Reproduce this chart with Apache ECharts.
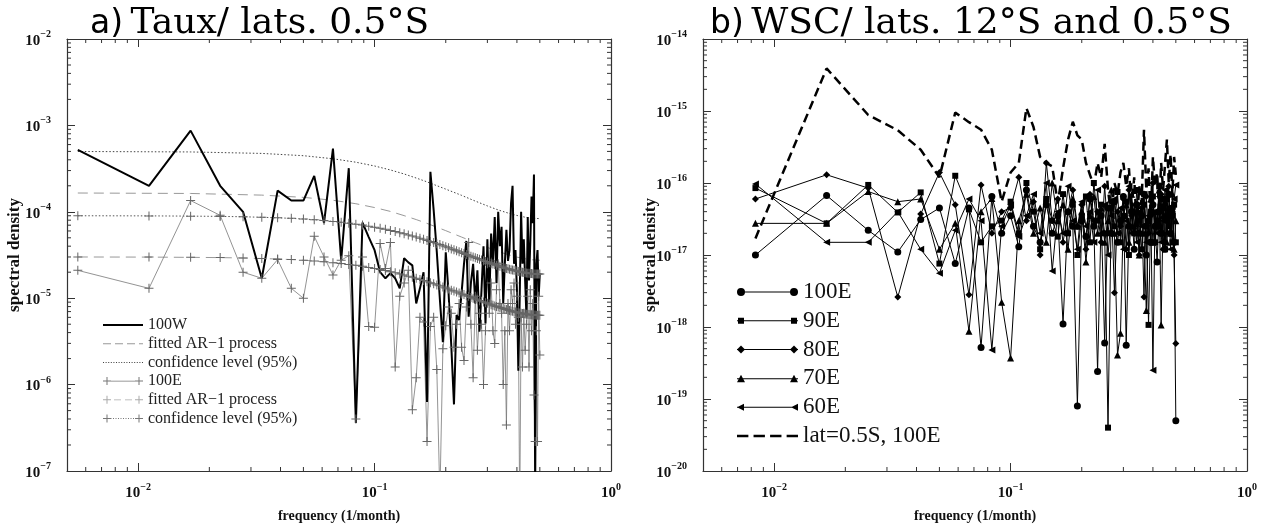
<!DOCTYPE html>
<html>
<head>
<meta charset="utf-8">
<script src="https://cdn.jsdelivr.net/npm/echarts@6/dist/echarts.min.js"></script>
<style>
  html, body { margin: 0; padding: 0; background: #fff; }
  #chart { width: 1261px; height: 529px; }
</style>
</head>
<body>
<div id="chart"></div>
<script>
// panel a: 180-month record -> frequencies k/180 ; panel b: 120-month record -> k/120
var nA = 180, nB = 120;
var kA = Array.from({ length: 90 }, function (_, i) { return i + 1; });
var kB = Array.from({ length: 60 }, function (_, i) { return i + 1; });
var kSmooth = [1, 3, 6, 9, 12, 15, 18, 21, 24, 27, 30, 36, 42, 48, 54, 60, 66, 72, 78, 84, 90];

// ---- panel a) Taux, lat 0.5S ----
var spec100W = [
  5.2e-4, 2.0e-4, 8.7e-4, 2.0e-4, 1.0e-4, 1.7e-5, 1.76e-4, 1.35e-4, 1.35e-4, 2.6e-4, 7.4e-5, 5.4e-4, 2.75e-5, 3.2e-4, 3.6e-7,
  7.5e-5, 5.1e-5, 3.6e-5, 2.0e-5, 1.7e-5, 1.95e-5, 1.7e-5, 1.3e-5, 2.9e-5, 2.6e-5, 2.4e-5, 8.7e-6, 1.3e-5, 2.0e-5, 6.3e-7, 2.9e-4,
  1.05e-4, 3.4e-5, 9.7e-6, 3.1e-6, 3.4e-5, 1.15e-5, 2.8e-6, 5.9e-7, 6.4e-6, 5.6e-6, 1.15e-5, 2.5e-5, 4.6e-5, 6.1e-6,
  1.5e-5, 2.5e-5, 8.7e-6, 2.1e-5, 4.1e-6, 1.25e-5, 4.0e-5, 5.1e-6, 4.8e-5, 8.7e-6, 5.6e-5, 2.5e-5, 8.7e-5, 1.5e-5, 1.0e-4,
  4.0e-5, 6.7e-5, 8.7e-6, 2.5e-5, 6.2e-5, 2.7e-5, 3.6e-5, 1.26e-4, 2.0e-4, 2.5e-5, 3.6e-5, 1.25e-5, 1.45e-6, 1.05e-5, 1.0e-4,
  2.5e-5, 4.8e-5, 1.6e-5, 6.1e-6, 8.7e-5, 1.6e-5, 4.3e-5, 1.5e-4, 7.4e-5, 2.7e-4, 6.0e-8, 2.5e-5, 3.6e-5, 1.05e-5, 1.95e-5
];
var fit100W = [1.65e-4, 1.63e-4, 1.56e-4, 1.47e-4, 1.36e-4, 1.24e-4, 1.12e-4, 1.01e-4, 9.03e-5, 8.13e-5, 7.34e-5,
  6.05e-5, 5.10e-5, 4.39e-5, 3.87e-5, 3.48e-5, 3.19e-5, 2.99e-5, 2.86e-5, 2.78e-5, 2.75e-5];
var conf100W = [4.99e-4, 4.93e-4, 4.74e-4, 4.46e-4, 4.11e-4, 3.75e-4, 3.39e-4, 3.05e-4, 2.74e-4, 2.46e-4, 2.22e-4,
  1.83e-4, 1.55e-4, 1.33e-4, 1.17e-4, 1.05e-4, 9.68e-5, 9.07e-5, 8.66e-5, 8.42e-5, 8.34e-5];
var spec100E = [
  2.1e-5, 1.3e-5, 1.35e-4, 9.1e-5, 2.0e-5, 1.7e-5, 2.8e-5, 1.3e-5, 1.0e-5, 5.2e-5, 3.0e-5, 1.86e-5, 2.75e-5, 3.1e-5, 4.0e-7,
  3.0e-5, 4.7e-6, 4.6e-6, 4.3e-5, 2.2e-5, 4.4e-5, 1.6e-6, 1.05e-5, 1.5e-5, 2.1e-5, 5.1e-7, 1.2e-6, 6.0e-6, 5.3e-6, 2.2e-7,
  4.7e-6, 6.0e-6, 1.5e-6, 5.0e-8, 2.6e-6, 4.8e-6, 7.9e-6, 6.7e-6, 2.7e-6, 5.0e-6, 8.7e-6, 2.7e-6, 1.9e-6, 7.9e-6, 4.4e-5,
  5.0e-6, 1.2e-6, 1.05e-5, 2.5e-6, 6.7e-6, 5.0e-6, 1.0e-6, 4.2e-6, 2.5e-5, 6.7e-6, 1.5e-5, 4.2e-6, 3.0e-6, 1.25e-5, 2.5e-5,
  8.7e-6, 6.7e-6, 1.0e-6, 4.2e-6, 3.4e-7, 8.7e-6, 4.2e-6, 1.25e-5, 8.7e-6, 1.5e-5, 5.0e-6, 1.05e-5, 6.0e-6, 3.0e-8, 6.0e-6,
  1.6e-6, 6.7e-6, 2.5e-6, 5.0e-6, 1.05e-5, 1.6e-6, 1.25e-5, 4.2e-6, 8.7e-6, 7.6e-7, 2.2e-7, 4.2e-6, 2.2e-7, 1.05e-5, 2.2e-6
];
var fit100E = [
  3.00e-5, 2.99e-5, 2.97e-5, 2.95e-5, 2.92e-5, 2.88e-5, 2.84e-5, 2.80e-5, 2.75e-5, 2.70e-5,
  2.64e-5, 2.58e-5, 2.52e-5, 2.46e-5, 2.40e-5, 2.34e-5, 2.27e-5, 2.21e-5, 2.15e-5, 2.09e-5,
  2.03e-5, 1.97e-5, 1.91e-5, 1.86e-5, 1.80e-5, 1.75e-5, 1.70e-5, 1.65e-5, 1.60e-5, 1.55e-5,
  1.51e-5, 1.47e-5, 1.42e-5, 1.39e-5, 1.35e-5, 1.31e-5, 1.28e-5, 1.24e-5, 1.21e-5, 1.18e-5,
  1.15e-5, 1.12e-5, 1.10e-5, 1.07e-5, 1.05e-5, 1.02e-5, 1.00e-5, 9.81e-6, 9.60e-6, 9.41e-6,
  9.23e-6, 9.05e-6, 8.88e-6, 8.72e-6, 8.57e-6, 8.42e-6, 8.28e-6, 8.15e-6, 8.02e-6, 7.90e-6,
  7.79e-6, 7.68e-6, 7.58e-6, 7.48e-6, 7.38e-6, 7.30e-6, 7.21e-6, 7.13e-6, 7.06e-6, 6.99e-6,
  6.92e-6, 6.86e-6, 6.80e-6, 6.75e-6, 6.70e-6, 6.65e-6, 6.61e-6, 6.57e-6, 6.53e-6, 6.50e-6,
  6.47e-6, 6.44e-6, 6.42e-6, 6.40e-6, 6.38e-6, 6.37e-6, 6.36e-6, 6.35e-6, 6.35e-6, 6.35e-6
];
var conf100E = [
  9.00e-5, 8.97e-5, 8.91e-5, 8.85e-5, 8.76e-5, 8.64e-5, 8.52e-5, 8.40e-5, 8.25e-5, 8.10e-5,
  7.92e-5, 7.74e-5, 7.56e-5, 7.38e-5, 7.20e-5, 7.02e-5, 6.81e-5, 6.63e-5, 6.45e-5, 6.27e-5,
  6.09e-5, 5.91e-5, 5.73e-5, 5.58e-5, 5.40e-5, 5.25e-5, 5.10e-5, 4.95e-5, 4.80e-5, 4.65e-5,
  4.53e-5, 4.41e-5, 4.26e-5, 4.17e-5, 4.05e-5, 3.93e-5, 3.84e-5, 3.72e-5, 3.63e-5, 3.54e-5,
  3.45e-5, 3.36e-5, 3.30e-5, 3.21e-5, 3.15e-5, 3.06e-5, 3.00e-5, 2.94e-5, 2.88e-5, 2.82e-5,
  2.77e-5, 2.72e-5, 2.66e-5, 2.62e-5, 2.57e-5, 2.53e-5, 2.48e-5, 2.45e-5, 2.41e-5, 2.37e-5,
  2.34e-5, 2.30e-5, 2.27e-5, 2.24e-5, 2.21e-5, 2.19e-5, 2.16e-5, 2.14e-5, 2.12e-5, 2.10e-5,
  2.08e-5, 2.06e-5, 2.04e-5, 2.03e-5, 2.01e-5, 2.00e-5, 1.98e-5, 1.97e-5, 1.96e-5, 1.95e-5,
  1.94e-5, 1.93e-5, 1.93e-5, 1.92e-5, 1.91e-5, 1.91e-5, 1.91e-5, 1.91e-5, 1.91e-5, 1.91e-5
];

// ---- panel b) WSC, lat 12S (markers) and 0.5S (dashed) ----
var wsc100E = [
  1.0e-17, 6.7e-17, 2.2e-17, 1.1e-17, 3.1e-17, 4.5e-17, 7.6e-18, 4.5e-17, 5.2e-19, 6.5e-17,
  2.0e-17, 3.5e-17, 1.3e-17, 8.0e-17, 2.5e-17, 1.5e-17, 5.0e-17, 2.0e-17, 3.5e-17, 1.1e-18,
  4.0e-17, 2.5e-17, 8.0e-20, 3.0e-17, 1.8e-17, 6.0e-17, 2.5e-17, 2.4e-19, 3.5e-17, 6.0e-19,
  4.5e-17, 2.0e-17, 5.5e-17, 1.5e-17, 3.0e-17, 6.5e-17, 5.6e-19, 2.5e-17, 4.0e-17, 1.2e-17,
  5.0e-17, 2.0e-17, 3.5e-17, 7.0e-17, 1.0e-17, 3.0e-17, 1.5e-17, 5.0e-17, 2.5e-17, 8.0e-18,
  4.0e-17, 2.0e-17, 6.0e-17, 1.2e-17, 3.5e-17, 7.0e-17, 2.0e-17, 4.5e-17, 1.5e-17, 5.0e-20
];
var wsc90E = [
  8.5e-17, 2.75e-17, 9.4e-17, 3.9e-17, 7.4e-17, 7.6e-18, 1.26e-16, 4.3e-17, 1.5e-17, 2.5e-17,
  3.0e-17, 5.5e-17, 2.0e-17, 1.0e-16, 4.0e-17, 1.2e-17, 6.0e-17, 3.0e-17, 1.8e-17, 7.0e-17,
  2.0e-17, 5.0e-17, 1.0e-17, 3.5e-17, 6.5e-17, 1.5e-17, 1.0e-16, 3.0e-17, 5.0e-17, 2.0e-17,
  4.0e-20, 4.5e-17, 2.5e-17, 7.5e-17, 1.5e-17, 3.5e-17, 5.5e-17, 1.0e-17, 4.0e-17, 2.0e-17,
  8.0e-17, 3.0e-17, 1.2e-17, 5.0e-17, 2.5e-17, 1.07e-18, 4.0e-17, 6.5e-17, 1.5e-17, 3.0e-17,
  9.0e-17, 2.0e-17, 4.5e-17, 1.2e-17, 6.0e-17, 2.5e-17, 3.5e-17, 1.5e-17, 5.0e-17, 1.5e-17
];
var wsc80E = [
  6.0e-17, 1.3e-16, 8.5e-17, 2.6e-18, 3.7e-17, 1.4e-16, 5.0e-17, 2.8e-18, 9.4e-17, 2.0e-17,
  4.0e-17, 4.5e-17, 1.2e-16, 3.0e-17, 5.5e-17, 1.0e-17, 1.9e-16, 3.0e-17, 6.0e-17, 1.5e-17,
  4.0e-17, 8.0e-17, 2.5e-17, 5.0e-17, 1.2e-17, 7.0e-17, 3.0e-17, 4.0e-17, 1.5e-17, 9.0e-17,
  2.0e-17, 5.5e-17, 3.0e-18, 4.0e-17, 2.5e-17, 6.0e-17, 1.2e-17, 8.0e-17, 3.5e-17, 2.0e-17,
  5.0e-17, 1.0e-17, 4.5e-17, 2.6e-18, 6.5e-17, 2.0e-17, 3.5e-17, 1.0e-16, 1.5e-17, 4.0e-17,
  2.5e-17, 7.0e-17, 1.2e-17, 5.0e-17, 3.0e-17, 9.0e-17, 2.0e-17, 4.0e-17, 1.0e-17, 5.9e-19
];
var wsc70E = [
  2.75e-17, 2.75e-17, 7.6e-17, 5.5e-17, 6.0e-17, 1.2e-17, 2.75e-17, 8.7e-19, 4.0e-17, 6.1e-17,
  2.2e-18, 3.7e-19, 3.0e-17, 7.0e-17, 2.0e-17, 4.5e-17, 1.5e-17, 1.0e-16, 3.0e-17, 5.0e-17,
  1.2e-17, 6.0e-17, 2.5e-17, 4.0e-17, 8.0e-18, 3.5e-17, 6.5e-17, 2.0e-17, 4.5e-17, 1.5e-17,
  3.0e-17, 8.0e-17, 2.0e-17, 4.1e-19, 8.2e-19, 3.5e-17, 5.0e-17, 1.5e-17, 7.0e-17, 2.5e-17,
  4.0e-17, 1.0e-17, 5.5e-17, 2.0e-17, 1.7e-18, 3.0e-17, 6.0e-17, 1.5e-17, 4.0e-17, 2.5e-17,
  8.0e-17, 1.07e-18, 3.5e-17, 5.5e-17, 1.5e-17, 4.5e-17, 2.0e-17, 7.0e-17, 1.2e-17, 3.0e-17
];
var wsc60E = [
  9.7e-17, 1.5e-17, 1.5e-17, 4.0e-17, 1.2e-17, 5.6e-18, 2.2e-17, 6.0e-17, 3.0e-17, 4.8e-19,
  2.5e-17, 5.0e-17, 1.8e-17, 3.5e-17, 7.0e-17, 2.0e-17, 1.0e-16, 6.0e-18, 4.0e-17, 2.0e-17,
  9.0e-17, 3.0e-17, 1.2e-17, 5.5e-17, 2.5e-17, 4.0e-17, 1.5e-17, 8.0e-17, 2.0e-17, 5.0e-17,
  1.0e-17, 3.5e-17, 6.0e-17, 2.0e-17, 4.5e-17, 1.2e-17, 3.0e-17, 9.0e-17, 2.0e-17, 5.0e-17,
  1.5e-17, 4.0e-17, 2.5e-17, 7.0e-17, 1.5e-17, 3.5e-17, 5.5e-17, 2.5e-19, 4.0e-17, 2.0e-17,
  6.5e-17, 1.5e-17, 3.0e-17, 8.0e-17, 2.0e-17, 4.5e-17, 1.2e-17, 3.5e-17, 6.0e-17, 9.4e-17
];
var wscLat05 = [
  1.7e-17, 3.9e-15, 8.8e-16, 5.4e-16, 2.9e-16, 1.2e-16, 9.5e-16, 7.0e-16, 5.5e-16, 2.9e-16,
  5.5e-17, 1.4e-16, 1.9e-16, 1.1e-15, 6.0e-16, 2.3e-16, 1.9e-16, 1.7e-16, 5.2e-17, 1.6e-16,
  4.0e-16, 7.1e-16, 4.6e-16, 4.0e-16, 1.9e-16, 1.3e-16, 9.0e-17, 1.9e-16, 1.2e-16, 3.5e-16,
  8.0e-17, 3.4e-17, 1.0e-16, 7.0e-17, 1.4e-16, 1.9e-16, 9.0e-17, 1.6e-16, 4.2e-17, 1.2e-16,
  2.4e-17, 9.0e-17, 5.2e-17, 5.5e-16, 8.0e-17, 1.6e-16, 3.0e-17, 2.3e-16, 9.0e-17, 1.4e-16,
  4.0e-17, 1.9e-16, 8.0e-17, 1.8e-16, 4.0e-16, 1.0e-16, 2.5e-16, 7.0e-17, 2.3e-16, 1.3e-16
];

// decade starts used for the small log ticks
var xDecades = [0.001, 0.01, 0.1];
var yDecadesA = [1e-7, 1e-6, 1e-5, 1e-4, 1e-3];
var yDecadesB = [1e-20, 1e-19, 1e-18, 1e-17, 1e-16, 1e-15];

var legendText = {
  aW: '100W', aWfit: 'fitted AR\u22121 process', aWconf: 'confidence level (95%)',
  aE: '100E', aEfit: 'fitted AR\u22121 process', aEconf: 'confidence level (95%)',
  b100: '100E', b90: '90E', b80: '80E', b70: '70E', b60: '60E', bLat: 'lat=0.5S, 100E'
};

function pairs(ks, n, vals) {
  return ks.map(function (k, i) { return [k / n, vals[i]]; });
}
function minorOf(decades, lo, hi) {
  var out = [];
  decades.forEach(function (d) {
    for (var m = 2; m <= 9; m++) { var v = m * d; if (v > lo && v < hi) out.push(v); }
  });
  return out;
}

// ---- small svg helpers for legend icons ----
function bar(x0, x1, y, h) {
  return 'M' + x0 + ',' + y + 'h' + (x1 - x0) + 'v' + h + 'h' + (x0 - x1) + 'z';
}
function dashes(W, d, g, y, h) {
  var p = '';
  for (var x = 0; x < W; x += d + g) p += bar(x, Math.min(x + d, W), y, h);
  return p;
}
function cross(cx, cy, r, t) {
  var a = r - t / 2;
  return 'M' + (cx - t / 2) + ',' + (cy - r) + 'h' + t + 'v' + a + 'h' + a + 'v' + t + 'h' + (-a) +
    'v' + a + 'h' + (-t) + 'v' + (-a) + 'h' + (-a) + 'v' + (-t) + 'h' + a + 'z';
}
function circ(cx, cy, r) {
  return 'M' + (cx - r) + ',' + cy + 'a' + r + ',' + r + ' 0 1,1 ' + (2 * r) + ',0a' + r + ',' + r + ' 0 1,1 ' + (-2 * r) + ',0z';
}
var plusEnds = cross(4, 4, 4, 1) + cross(36, 4, 4, 1);
var midLine = bar(0, 61, 4, 1);
var icons = {
  aW: bar(0, 40, 3, 2),
  aWfit: dashes(40, 8, 4, 3.5, 1),
  aWconf: dashes(40, 1, 1.5, 3.5, 1),
  aE: plusEnds + bar(0, 40, 3.6, 0.8),
  aEfit: plusEnds + dashes(40, 7, 4, 3.6, 0.8),
  aEconf: plusEnds + dashes(40, 1, 1.5, 3.6, 0.8),
  b100: circ(4, 4.5, 4) + circ(57, 4.5, 4) + midLine,
  b90: 'M1,1.5h6v6h-6z M54,1.5h6v6h-6z' + midLine,
  b80: 'M4,0.5L8,4.5L4,8.5L0,4.5z M57,0.5L61,4.5L57,8.5L53,4.5z' + midLine,
  b70: 'M4,0.5L8,8L0,8z M57,0.5L61,8L53,8z' + midLine,
  b60: 'M0,4.5L7,1L7,8z M54,4.5L61,1L61,8z' + midLine,
  bLat: bar(0, 11, 3, 2.6) + bar(16, 27, 3, 2.6) + bar(32, 43, 3, 2.6) + bar(48, 59, 3, 2.6)
};
var plusSymbol = 'path://' + cross(4.5, 4.5, 4.5, 1);

function logLabel(v) {
  var l = Math.log(v) / Math.LN10, e = Math.round(l);
  if (Math.abs(l - e) > 0.01) return '';
  return '{b|10}{e|' + (e < 0 ? '\u2212' + (-e) : e) + '}';
}
var labelRich = {
  b: { fontFamily: 'Liberation Serif', fontSize: 15, fontWeight: 'bold', color: '#111', lineHeight: 19, verticalAlign: 'bottom' },
  e: { fontFamily: 'Liberation Serif', fontSize: 10, fontWeight: 'bold', color: '#111', lineHeight: 11, verticalAlign: 'top' }
};
var xNameStyle = { fontFamily: 'Liberation Serif', fontSize: 14, fontWeight: 'bold', color: '#111' };
var yNameStyle = { fontFamily: 'Liberation Serif', fontSize: 17, fontWeight: 'bold', color: '#111' };
var frame = { lineStyle: { color: '#333', width: 1.2 } };
var majorTick = { inside: true, length: 8, lineStyle: { color: '#333', width: 1 } };

function xAxes(gi) {
  return [
    { type: 'log', gridIndex: gi, min: 0.005, max: 1, position: 'bottom',
      name: 'frequency (1/month)', nameLocation: 'middle', nameGap: 38, nameMoveOverlap: false, nameTextStyle: xNameStyle,
      axisLine: frame, axisTick: majorTick, splitLine: { show: false },
      axisLabel: { formatter: logLabel, rich: labelRich, margin: 11 } },
    { type: 'log', gridIndex: gi, min: 0.005, max: 1, position: 'top',
      axisLine: frame, axisTick: majorTick, splitLine: { show: false }, axisLabel: { show: false } }
  ];
}
function yAxes(gi, min, max) {
  return [
    { type: 'log', gridIndex: gi, min: min, max: max, position: 'left',
      name: 'spectral density', nameLocation: 'middle', nameGap: 44, nameMoveOverlap: false, nameTextStyle: yNameStyle,
      axisLine: frame, axisTick: majorTick, splitLine: { show: false },
      axisLabel: { formatter: logLabel, rich: labelRich, margin: 16 } },
    { type: 'log', gridIndex: gi, min: min, max: max, position: 'right',
      axisLine: frame, axisTick: majorTick, splitLine: { show: false }, axisLabel: { show: false } }
  ];
}

// small log ticks on all four sides, placed through the axes' own scales
function minorTicks(gi, xMin, yMin, xs, ys) {
  var data = xs.map(function (v) { return [v, yMin, 0]; }).concat(ys.map(function (v) { return [xMin, v, 1]; }));
  return {
    type: 'custom', xAxisIndex: gi * 2, yAxisIndex: gi * 2, silent: true, z: 5, clip: false,
    data: data,
    renderItem: function (params, api) {
      var p = api.coord([api.value(0), api.value(1)]);
      var cs = params.coordSys, L = 4, st = { stroke: '#333', lineWidth: 1 };
      if (api.value(2) === 0) {
        return { type: 'group', children: [
          { type: 'line', shape: { x1: p[0], y1: cs.y + cs.height, x2: p[0], y2: cs.y + cs.height - L }, style: st },
          { type: 'line', shape: { x1: p[0], y1: cs.y, x2: p[0], y2: cs.y + L }, style: st }
        ] };
      }
      return { type: 'group', children: [
        { type: 'line', shape: { x1: cs.x, y1: p[1], x2: cs.x + L, y2: p[1] }, style: st },
        { type: 'line', shape: { x1: cs.x + cs.width, y1: p[1], x2: cs.x + cs.width - L, y2: p[1] }, style: st }
      ] };
    }
  };
}

function lineA(id, data, color, width, type, withPlus) {
  return {
    type: 'line', name: id, xAxisIndex: 0, yAxisIndex: 0, data: data,
    showSymbol: !!withPlus, symbol: withPlus ? plusSymbol : 'none', symbolSize: 9,
    itemStyle: { color: withPlus ? '#666' : color, borderWidth: 0 },
    lineStyle: { color: color, width: width, type: type },
    emphasis: { disabled: true }
  };
}
function lineB(id, vals, symbol, size, rotate) {
  return {
    type: 'line', name: id, xAxisIndex: 2, yAxisIndex: 2, data: pairs(kB, nB, vals),
    symbol: symbol, symbolSize: size, symbolRotate: rotate || 0,
    itemStyle: { color: '#000', borderWidth: 0 },
    lineStyle: { color: '#000', width: 1 },
    emphasis: { disabled: true }
  };
}

var legendColors = { aW: '#000', aWfit: '#999', aWconf: '#444', aE: '#777', aEfit: '#aaa', aEconf: '#777',
  b100: '#000', b90: '#000', b80: '#000', b70: '#000', b60: '#000', bLat: '#000' };
function legendData(ids) {
  return ids.map(function (id) {
    return { name: id, icon: 'path://' + icons[id], itemStyle: { color: legendColors[id], borderWidth: 0 } };
  });
}
var titleRich = {
  s: { fontFamily: 'DejaVu Sans', fontSize: 33, fontWeight: 'normal', color: '#000' },
  t: { fontFamily: 'DejaVu Serif', fontSize: 36, fontWeight: 'normal', color: '#000' }
};

var chart = echarts.init(document.getElementById('chart'), null, { renderer: 'canvas' });
chart.setOption({
  animation: false,
  backgroundColor: '#fff',
  textStyle: { fontFamily: 'Liberation Serif' },
  title: [
    { left: 85, top: 1, text: '{s|a)} {t|Taux/ lats. 0.5\u00b0S}',
      textStyle: { fontWeight: 'normal', fontSize: 30, rich: titleRich } },
    { left: 705, top: 1, text: '{s|b)} {t|WSC/ lats. 12\u00b0S and 0.5\u00b0S}',
      textStyle: { fontWeight: 'normal', fontSize: 30, rich: titleRich } }
  ],
  grid: [
    { left: 67, top: 39, width: 544, height: 432, outerBoundsMode: 'none' },
    { left: 703, top: 39, width: 544, height: 432, outerBoundsMode: 'none' }
  ],
  xAxis: xAxes(0).concat(xAxes(1)),
  yAxis: yAxes(0, 1e-7, 1e-2).concat(yAxes(1, 1e-20, 1e-14)),
  legend: [
    { left: 103, top: 316, orient: 'vertical', padding: 0, itemWidth: 40, itemHeight: 8, itemGap: 0.7,
      selectedMode: false, itemStyle: { borderWidth: 0 },
      formatter: function (n) { return legendText[n]; },
      textStyle: { fontFamily: 'Liberation Serif', fontSize: 16, lineHeight: 18, color: '#222' },
      data: legendData(['aW', 'aWfit', 'aWconf', 'aE', 'aEfit', 'aEconf']) },
    { left: 737, top: 279, orient: 'vertical', padding: 0, itemWidth: 61, itemHeight: 9, itemGap: 2.8,
      selectedMode: false, itemStyle: { borderWidth: 0 },
      formatter: function (n) { return legendText[n]; },
      textStyle: { fontFamily: 'Liberation Serif', fontSize: 23, lineHeight: 26, color: '#111' },
      data: legendData(['b100', 'b90', 'b80', 'b70', 'b60', 'bLat']) }
  ],
  series: [
    minorTicks(0, 0.005, 1e-7, minorOf(xDecades, 0.005, 1), minorOf(yDecadesA, 1e-7, 1e-2)),
    minorTicks(1, 0.005, 1e-20, minorOf(xDecades, 0.005, 1), minorOf(yDecadesB, 1e-20, 1e-14)),
    lineA('aWconf', pairs(kSmooth, nA, conf100W), '#444', 1, [1.5, 2], false),
    lineA('aWfit', pairs(kSmooth, nA, fit100W), '#999', 1, [10, 6], false),
    lineA('aEconf', pairs(kA, nA, conf100E), '#555', 1, [1.5, 2], true),
    lineA('aEfit', pairs(kA, nA, fit100E), '#999', 1, [10, 6], true),
    lineA('aE', pairs(kA, nA, spec100E), '#777', 0.8, 'solid', true),
    lineA('aW', pairs(kA, nA, spec100W), '#000', 2, 'solid', false),
    lineB('b100', wsc100E, 'circle', 7),
    lineB('b90', wsc90E, 'rect', 6),
    lineB('b80', wsc80E, 'diamond', 7),
    lineB('b70', wsc70E, 'triangle', 7),
    lineB('b60', wsc60E, 'triangle', 7, 90),
    {
      type: 'line', name: 'bLat', xAxisIndex: 2, yAxisIndex: 2, data: pairs(kB, nB, wscLat05),
      symbol: 'none', itemStyle: { color: '#000' },
      lineStyle: { color: '#000', width: 2.5, type: [9, 5] },
      emphasis: { disabled: true }
    }
  ]
});
</script>
</body>
</html>
